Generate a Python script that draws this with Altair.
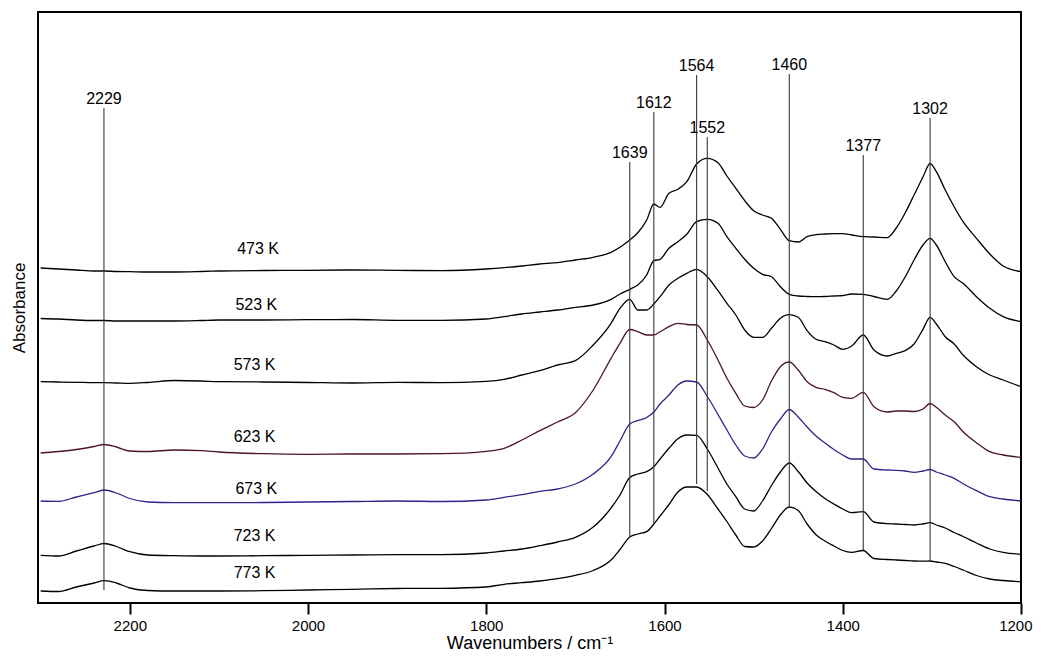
import altair as alt
import pandas as pd

# Wavenumber grid (cm^-1)
wavenumbers = [2300, 2280, 2260, 2240, 2229, 2215, 2200, 2180, 2150, 2120,
               2100, 2050, 2000, 1950, 1900, 1850, 1800, 1780, 1760, 1740,
               1720, 1700, 1680, 1660, 1650, 1639, 1630, 1620, 1612, 1605,
               1595, 1585, 1575, 1564, 1552, 1540, 1530, 1520, 1510, 1500,
               1490, 1480, 1470, 1460, 1450, 1440, 1430, 1420, 1410, 1400,
               1390, 1377, 1365, 1350, 1340, 1330, 1320, 1310, 1302, 1295,
               1285, 1275, 1265, 1250, 1235, 1220, 1200]

# Offset absorbance (arbitrary units) of each spectrum
abs_473 = [335, 334, 333, 332, 332, 331.5, 331.3, 331, 331, 331.5,
           332, 332.5, 332.7, 333, 332.7, 332.3, 334, 335.3, 337, 339,
           340.3, 343, 345.7, 350.7, 355.7, 363, 370.3, 383, 399, 395.7,
           409.7, 413.7, 421.3, 439, 444.7, 440.3, 427, 414.7, 402.3, 392.3,
           388, 384.7, 373.7, 362.3, 361, 366.3, 368.3, 369, 369.3, 369.3,
           368, 366.3, 366, 365.3, 375, 390, 408, 426, 439.5, 431.3,
           413, 396.3, 381.3, 364.7, 349, 337, 331.3]
abs_523 = [284.5, 284, 283, 282.5, 282.5, 282, 282, 282, 282, 282.5,
           283, 283, 283.3, 283.5, 282.7, 282.7, 284, 286.3, 289, 291,
           293, 295.7, 298, 303.7, 309, 313.7, 318, 328, 342.3, 343.7,
           354.7, 361.3, 368.7, 381.3, 383.7, 379.7, 366.3, 354.7, 343.7, 334.7,
           328.7, 326.3, 316.3, 308.7, 307, 306.5, 306.3, 306.5, 307, 307.5,
           309, 308.7, 306.5, 303.7, 312, 326, 343, 358, 364.7, 358,
           341.3, 326.3, 319.7, 306.3, 294.7, 286.3, 281.3]
abs_573 = [221.3, 221, 220.7, 220.3, 220.3, 220, 219.7, 220.5, 222.5, 222,
           221.3, 221, 220.5, 220, 220.7, 220.3, 221.7, 223.7, 228, 232.3,
           238, 242.3, 258, 279.7, 294.7, 303.7, 293, 293, 299, 306.3,
           318, 324.7, 329.7, 333.7, 326.3, 312.3, 299.7, 288, 273, 265.7,
           265.7, 274.7, 284.7, 288.3, 285.7, 272.3, 263.7, 261.3, 258, 253.7,
           257, 268, 253, 247, 249.7, 252.3, 259, 273.7, 285.7, 279,
           266.3, 259, 248, 236.3, 228, 223, 216.3]
abs_623 = [150, 151.5, 153.5, 156.5, 158.5, 156, 152, 151.5, 153, 152.3,
           151, 149.3, 148.7, 149, 149, 149.3, 151.7, 154.7, 163, 172.3,
           181, 190.3, 213, 244.7, 259.7, 273.5, 271.3, 268, 268, 271.3,
           276.3, 279.7, 278.5, 278, 263, 243, 224.7, 209.7, 197, 195.5,
           203, 222, 236.3, 241, 233, 221.3, 215.7, 213.7, 210.3, 205.7,
           204.7, 210.7, 196.3, 191, 192, 192, 191.5, 194, 199.5, 195.7,
           188, 181.3, 171.3, 160.3, 151.3, 148, 145.5]
abs_673 = [102, 101.7, 106, 110.3, 113, 110, 104.5, 101, 100.3, 100.3,
           100.3, 100.5, 101, 101.5, 102, 101.5, 103, 105.7, 108.3, 111.7,
           114, 119, 129, 146.3, 162, 179, 182.3, 185.5, 191, 199,
           208, 218, 222, 221, 206.5, 188.5, 173, 158, 147, 145,
           154, 171, 184, 193.5, 186, 176, 167, 160, 153.5, 148,
           144, 144, 134, 133, 132.7, 132, 130.7, 132, 133.5, 131,
           128, 124.7, 119.3, 112.3, 106.3, 104, 102]
abs_723 = [47.7, 47, 52, 57, 59.5, 56.5, 51.3, 48, 47.3, 47,
           47, 47.3, 47.7, 48, 48.3, 48.3, 50, 52, 54, 57.3,
           61, 65.7, 76, 95, 108, 125.5, 129, 131.3, 136.3, 144,
           154.7, 164.3, 168, 167.7, 154, 135, 119, 106.3, 94, 92,
           102, 117.5, 131, 140, 131.5, 120, 111.5, 104.5, 99, 94,
           90.3, 91.3, 81, 79.3, 79, 78.5, 78, 79, 80.3, 78,
           75, 70.5, 66.5, 60, 54, 50.7, 48.7]
abs_773 = [12, 11.5, 16, 20, 22.3, 20, 15, 12.5, 12, 12,
           12, 12.3, 13, 13.7, 14.5, 14.7, 16, 18.7, 20.3, 22,
           24.3, 27.7, 32.5, 43, 53.5, 66, 69, 71.3, 79, 87,
           98.5, 111, 116, 116, 108.5, 94, 81.5, 68, 56.5, 56,
           62, 74.5, 88, 96, 92.5, 79, 68.3, 62, 57, 52.5,
           50.7, 52.5, 44.5, 43.5, 43, 42.5, 42, 41.8, 42, 41,
           39.7, 36.5, 33, 27.5, 24, 22.5, 21.3]

temperatures = ["473 K", "523 K", "573 K", "623 K", "673 K", "723 K", "773 K"]
series = [abs_473, abs_523, abs_573, abs_623, abs_673, abs_723, abs_773]
colors = ["#000000", "#000000", "#000000", "#4a1427", "#3b1d8c", "#000000", "#000000"]

# temperature label placement (wavenumber, absorbance)
label_wn = [2056, 2058, 2060, 2060, 2058, 2060, 2060]
label_abs = [354, 298, 238, 166, 114, 67, 30]

# peak markers
peak_wn = [2229, 1639, 1612, 1564, 1552, 1460, 1377, 1302]
peak_top = [495, 441, 491, 528, 466, 529, 448, 485]
peak_bottom = [13, 66, 80, 119, 112, 97, 53, 42]

rows = []
for t, vals in zip(temperatures, series):
    for w, a in zip(wavenumbers, vals):
        rows.append({"wn": w, "A": a, "T": t})
spec = pd.DataFrame(rows)

labels_df = pd.DataFrame({"wn": label_wn, "A": label_abs, "T": temperatures})
peaks_df = pd.DataFrame({"wn": peak_wn, "top": peak_top, "bottom": peak_bottom,
                         "label": [str(p) for p in peak_wn]})

FONT = "Liberation Sans"

xscale = alt.Scale(domain=[1200, 2303], reverse=True, nice=False, zero=False)
yscale = alt.Scale(domain=[0, 591], nice=False, zero=False)

xaxis = alt.Axis(values=[2200, 2000, 1800, 1600, 1400, 1200], format="d",
                 title="Wavenumbers / cm⁻¹", grid=False, domain=False,
                 ticks=True, tickSize=11, tickWidth=2, tickColor="black",
                 labelFontSize=15, labelFont=FONT, labelColor="black",
                 labelPadding=4, labelFlush=True, labelFlushOffset=11,
                 labelOverlap=False,
                 titleFont=FONT, titleFontSize=18, titleFontWeight="normal",
                 titleColor="black", titlePadding=1)
yaxis = alt.Axis(title="Absorbance", labels=False, ticks=False, domain=False,
                 grid=False, titleFont=FONT, titleFontSize=17,
                 titleFontWeight="normal", titleColor="black", titlePadding=10)

lines = alt.Chart(spec).mark_line(strokeWidth=1.3, interpolate="monotone").encode(
    x=alt.X("wn:Q", scale=xscale, axis=xaxis),
    y=alt.Y("A:Q", scale=yscale, axis=yaxis),
    detail="T:N",
    order=alt.Order("wn:Q", sort="descending"),
    color=alt.Color("T:N", scale=alt.Scale(domain=temperatures, range=colors), legend=None),
)

rules = alt.Chart(peaks_df).mark_rule(color="#3a3a3a", strokeWidth=1.1).encode(
    x=alt.X("wn:Q", scale=xscale),
    y=alt.Y("top:Q", scale=yscale),
    y2="bottom:Q",
)

peak_text = alt.Chart(peaks_df).mark_text(
    font=FONT, fontSize=16, color="black", baseline="bottom", dy=-1
).encode(
    x=alt.X("wn:Q", scale=xscale),
    y=alt.Y("top:Q", scale=yscale),
    text="label:N",
)

temp_text = alt.Chart(labels_df).mark_text(
    font=FONT, fontSize=16, color="black", baseline="middle"
).encode(
    x=alt.X("wn:Q", scale=xscale),
    y=alt.Y("A:Q", scale=yscale),
    text="T:N",
)

chart = alt.layer(lines, rules, peak_text, temp_text).properties(
    width=983, height=591,
    autosize=alt.AutoSizeParams(type="none"),
    padding={"left": 30, "top": 4, "right": 12, "bottom": 50},
    background="white",
).configure_view(stroke="black", strokeWidth=2)

chart.save("out.html", embed_options={"renderer": "svg", "actions": False})
